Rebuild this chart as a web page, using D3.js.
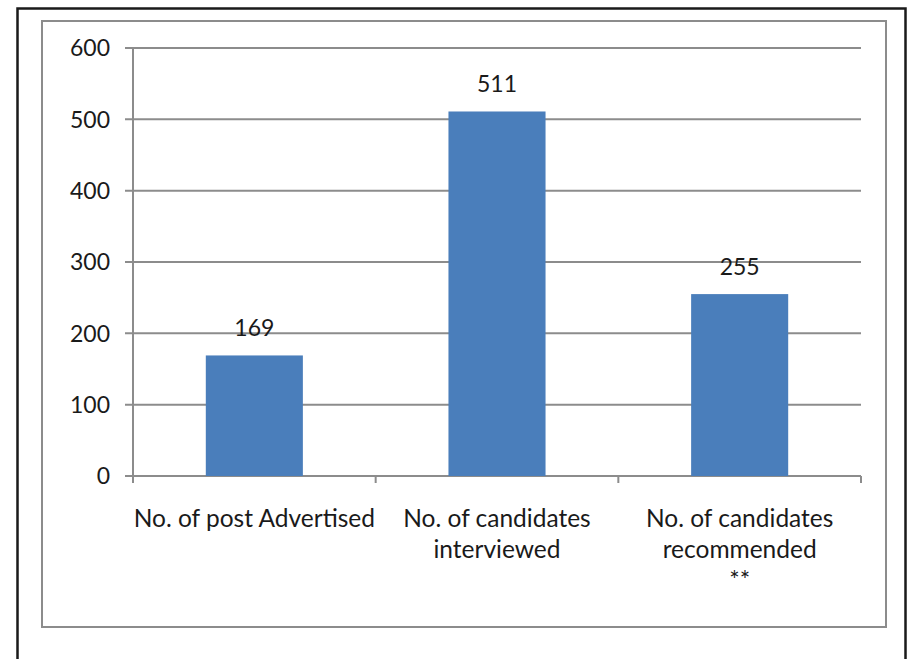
<!DOCTYPE html>
<html>
<head>
    <meta charset="utf-8">
    <title>Candidates</title>
    <script type="text/javascript" src="https://cdn.jsdelivr.net/npm/d3@7"></script>
    <style>
        body { margin: 0; background: #fff; }
        text { font-family: Lato, "Open Sans", sans-serif; fill: #1a1a1a; }
    </style>
</head>

<body>

<script type="text/javascript">
    var categories = [
        ["No. of post Advertised"],
        ["No. of candidates", "interviewed"],
        ["No. of candidates", "recommended", "**"]
    ];
    var values = [169, 511, 255];
    var yTicks = [0, 100, 200, 300, 400, 500, 600];

    var width = 908,
            height = 659,
            plotLeft = 133, plotRight = 861, plotTop = 48, plotBottom = 476;

    var svg = d3.select("body").append("svg")
            .attr("width", width)
            .attr("height", height);

    // frames
    svg.append("rect")
            .attr("x", 17.5).attr("y", 8.5)
            .attr("width", 888).attr("height", 700)
            .attr("fill", "none").attr("stroke", "#1a1a1a").attr("stroke-width", 2.5);
    svg.append("rect")
            .attr("x", 42).attr("y", 21)
            .attr("width", 844).attr("height", 606)
            .attr("fill", "none").attr("stroke", "#8c8c8c").attr("stroke-width", 2);

    var x = d3.scaleBand()
            .domain(d3.range(values.length))
            .range([plotLeft, plotRight])
            .paddingInner(0).paddingOuter(0);

    var y = d3.scaleLinear().domain([0, 600]).range([plotBottom, plotTop]);

    var barW = x.bandwidth() / 2.5;

    // grid lines
    svg.append("g").selectAll("line")
            .data(yTicks)
            .enter().append("line")
            .attr("x1", plotLeft - 8).attr("x2", plotRight)
            .attr("y1", function(d){ return y(d); })
            .attr("y2", function(d){ return y(d); })
            .attr("stroke", "#8c8c8c").attr("stroke-width", 2);

    // y axis line
    svg.append("line")
            .attr("x1", plotLeft).attr("x2", plotLeft)
            .attr("y1", plotTop).attr("y2", plotBottom + 7)
            .attr("stroke", "#8c8c8c").attr("stroke-width", 2);

    // x ticks at category boundaries
    var bounds = d3.range(values.length + 1).map(function(i){
        return i < values.length ? x(i) : x(values.length - 1) + x.bandwidth();
    });
    svg.append("g").selectAll("line")
            .data(bounds)
            .enter().append("line")
            .attr("x1", function(d){ return d; })
            .attr("x2", function(d){ return d; })
            .attr("y1", plotBottom).attr("y2", plotBottom + 7)
            .attr("stroke", "#8c8c8c").attr("stroke-width", 2);

    // y tick labels
    svg.append("g").selectAll("text")
            .data(yTicks)
            .enter().append("text")
            .attr("x", 110)
            .attr("y", function(d){ return y(d); })
            .attr("dy", "0.36em")
            .attr("text-anchor", "end")
            .attr("font-size", 23)
            .text(function(d){ return d; });

    // bars
    svg.append("g").selectAll("rect")
            .data(values)
            .enter().append("rect")
            .attr("x", function(d, i){ return x(i) + x.bandwidth() / 2 - barW / 2; })
            .attr("y", function(d){ return y(d); })
            .attr("width", barW)
            .attr("height", function(d){ return plotBottom - y(d); })
            .attr("fill", "#4a7ebb");

    // value labels
    svg.append("g").selectAll("text")
            .data(values)
            .enter().append("text")
            .attr("x", function(d, i){ return x(i) + x.bandwidth() / 2; })
            .attr("y", function(d){ return y(d) - 19; })
            .attr("text-anchor", "middle")
            .attr("font-size", 23)
            .text(function(d){ return d; });

    // category labels
    var cat = svg.append("g").selectAll("text")
            .data(categories)
            .enter().append("text")
            .attr("text-anchor", "middle")
            .attr("font-size", 24.5)
            .attr("x", function(d, i){ return x(i) + x.bandwidth() / 2; })
            .attr("y", plotBottom + 51);
    cat.selectAll("tspan")
            .data(function(d){ return d; })
            .enter().append("tspan")
            .attr("x", function(){ return d3.select(this.parentNode).attr("x"); })
            .attr("dy", function(d, j){ return j ? 31 : 0; })
            .text(function(d){ return d; });
</script>

</body>
</html>
